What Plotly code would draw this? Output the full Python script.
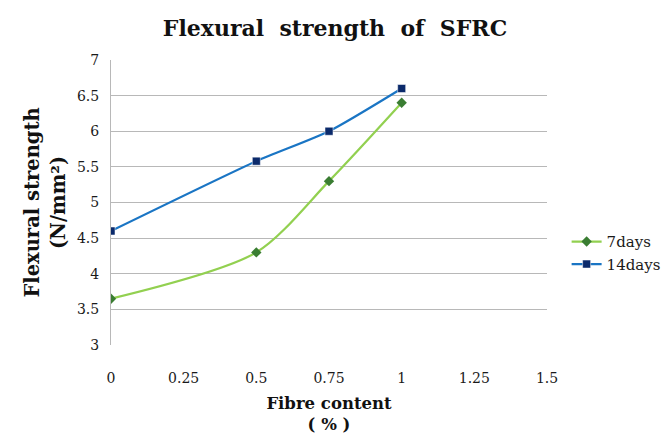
import plotly.graph_objects as go

fibre = [0, 0.5, 0.75, 1]
days7 = [3.65, 4.3, 5.3, 6.4]
days14 = [4.6, 5.58, 6.0, 6.6]
x_ticks = [0, 0.25, 0.5, 0.75, 1, 1.25, 1.5]
x_tick_text = ["0", "0.25", "0.5", "0.75", "1", "1.25", "1.5"]
y_ticks = [3, 3.5, 4, 4.5, 5, 5.5, 6, 6.5, 7]
y_tick_text = ["3", "3.5", "4", "4.5", "5", "5.5", "6", "6.5", "7"]

FONT = "DejaVu Serif"

fig = go.Figure()
fig.add_trace(go.Scatter(
    x=fibre, y=days7, name="7days", mode="lines+markers",
    line=dict(color="#92d050", width=2.2, shape="spline", smoothing=0.8),
    marker=dict(symbol="diamond", size=8, color="#3a7d32"),
))
fig.add_trace(go.Scatter(
    x=fibre, y=days14, name="14days", mode="lines+markers",
    line=dict(color="#1a75c4", width=2.2, shape="spline", smoothing=0.6),
    marker=dict(symbol="square", size=8, color="#0b2a6b",
                line=dict(color="#ffffff", width=0.5)),
))

fig.update_layout(
    width=670, height=446,
    margin=dict(l=111, r=123, t=60, b=101, autoexpand=False),
    paper_bgcolor="white", plot_bgcolor="white",
    font=dict(family=FONT, size=14, color="#1a1a1a"),
    title=dict(text="<b>Flexural  strength  of  SFRC</b>", x=0.5, xanchor="center",
               y=0.937, yanchor="middle", font=dict(family=FONT, size=22, color="#111")),
    xaxis=dict(range=[0, 1.5], tickvals=x_ticks, ticktext=x_tick_text,
               showgrid=False, zeroline=False, showline=False, automargin=False,
               ticks="outside", ticklen=20, tickcolor="rgba(0,0,0,0)",
               tickfont=dict(family=FONT, size=14, color="#1a1a1a"),
               title=dict(text="<b>Fibre content</b><br><b>( % )</b>", standoff=12,
                          font=dict(family=FONT, size=16.5, color="#111"))),
    yaxis=dict(range=[3, 7], tickvals=y_ticks, ticktext=y_tick_text,
               showgrid=True, gridcolor="#b8b8b8", gridwidth=1, automargin=False,
               zeroline=False, showline=True, linecolor="#b8b8b8", linewidth=1,
               ticks="outside", ticklen=8, tickcolor="rgba(0,0,0,0)",
               tickfont=dict(family=FONT, size=14, color="#1a1a1a"),
               title=dict(text="<b>Flexural strength</b><br><b>(N/mm²)</b>", standoff=6,
                          font=dict(family=FONT, size=19.5, color="#111"))),
    legend=dict(x=1.045, xanchor="left", y=0.42, yanchor="top",
                font=dict(family=FONT, size=15, color="#1a1a1a"),
                bgcolor="rgba(0,0,0,0)", tracegroupgap=4),
    showlegend=True,
)

fig.write_html("out.html")
